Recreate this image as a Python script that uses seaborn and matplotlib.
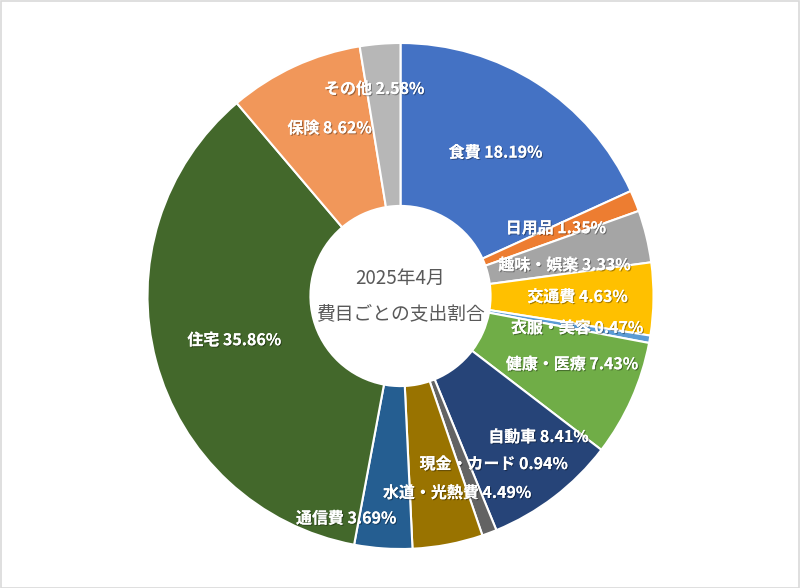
import numpy as np
import matplotlib
matplotlib.use("Agg")
import matplotlib.pyplot as plt
import matplotlib.patheffects as pe
import seaborn as sns

# data
categories = ['食費', '日用品', '趣味・娯楽', '交通費', '衣服・美容', '健康・医療',
              '自動車', '現金・カード', '水道・光熱費', '通信費', '住宅', '保険', 'その他']
shares = [18.19, 1.35, 3.33, 4.63, 0.47, 7.43, 8.41, 0.94, 4.49, 3.69, 35.86, 8.62, 2.58]
colors = ['#4472C4', '#ED7D31', '#A5A5A5', '#FFC000', '#5B9BD5', '#70AD47',
          '#264478', '#636363', '#997300', '#255E91', '#43682B', '#F1975A', '#B7B7B7']
center_title = ['2025年4月', '費目ごとの支出割合']

# label placement (radius as a fraction of the outer radius, angle nudge in degrees clockwise)
label_r = [0.68, 0.67, 0.66, 0.70, 0.71, 0.73, 0.78, 0.76, 0.81, 0.905, 0.68, 0.72, 0.825]
label_shift = [0.8, -1.5, 3.0, -0.4, 0.4, -2.4, -7.0, -8.5, -5.3, 9.8, 0.0, 1.9, -2.6]

sns.set_theme(style='white')
plt.rcParams['font.family'] = ['Noto Sans CJK JP', 'DejaVu Sans']

W, H = 800, 588
fig = plt.figure(figsize=(W / 100, H / 100), dpi=100)
fig.patch.set_facecolor('white')

# pie centre and outer radius in pixels
cx, cy, R = 400.5, 292, 253
ax = fig.add_axes([(cx - R) / W, (cy - R) / H, 2 * R / W, 2 * R / H])

palette = sns.color_palette(colors)
hole = 0.356
wedges, _ = ax.pie(shares, colors=palette, startangle=90, counterclock=False,
                   radius=1.0, wedgeprops=dict(width=1 - hole, edgecolor='white', linewidth=1.5))
ax.set_xlim(-1, 1)
ax.set_ylim(-1, 1)
ax.set_aspect('equal')
ax.axis('off')

shadow = [pe.withSimplePatchShadow(offset=(0.8, -0.8), shadow_rgbFace='black', alpha=0.35),
          pe.Normal()]

for w, name, val, r, d in zip(wedges, categories, shares, label_r, label_shift):
    mid = (w.theta1 + w.theta2) / 2 - d
    x = r * np.cos(np.radians(mid))
    y = r * np.sin(np.radians(mid))
    t = ax.text(x, y, f'{name} {val:.2f}%', ha='center', va='center',
                color='white', fontsize=11.5, fontweight='bold')
    t.set_path_effects(shadow)

ax.text(0, 0.07, center_title[0], ha='center', va='center', color='#595959', fontsize=13.5)
ax.text(0, -0.07, center_title[1], ha='center', va='center', color='#595959', fontsize=13.5)

# light grey frame around the chart area
fig.add_artist(plt.Rectangle((0.5 / W, 0.5 / H), 1 - 1.5 / W, 1 - 1.5 / H,
                             transform=fig.transFigure, fill=False,
                             edgecolor='#D9D9D9', linewidth=1.2))

fig.savefig('out.png', dpi=100, facecolor='white')
